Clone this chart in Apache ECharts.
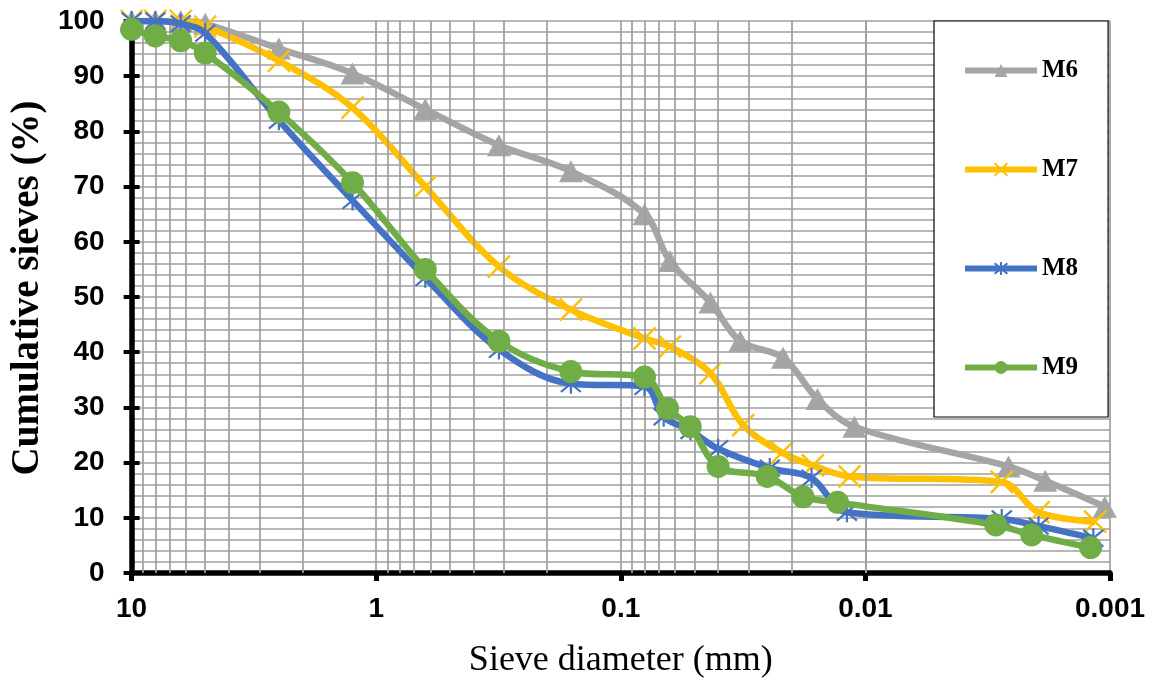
<!DOCTYPE html>
<html>
<head>
<meta charset="utf-8">
<script src="https://cdn.jsdelivr.net/npm/echarts@6/dist/echarts.min.js"></script>
<style>html,body{margin:0;padding:0;background:#fff}#c{width:1155px;height:686px}</style>
</head>
<body>
<div id="c"></div>
<script>
// ---- data (sieve diameter in mm, cumulative passing in %) ----
const m6X = [10, 8, 6.3, 5, 2.5, 1.25, 0.63, 0.315, 0.16, 0.08, 0.063, 0.043, 0.0325, 0.0217, 0.0157, 0.0111, 0.0026, 0.00184, 0.00105];
const m6Y = [100, 100, 100, 99.5, 95, 90.5, 84, 77.5, 72.8, 65, 56.5, 49, 42, 39, 31.5, 26.5, 19.3, 16.7, 12];
const m7X = [10, 8, 6.3, 5, 2.5, 1.25, 0.63, 0.315, 0.16, 0.08, 0.063, 0.043, 0.0316, 0.0219, 0.0164, 0.0116, 0.00277, 0.00196, 0.00115];
const m7Y = [100, 100, 100, 99, 92.8, 84.3, 70, 55.5, 47.7, 42.5, 41, 36.2, 26.8, 21.8, 19.5, 17.5, 16.5, 11, 9.3];
const m8X = [10, 8, 6.3, 5, 2.5, 1.25, 0.63, 0.315, 0.16, 0.08, 0.0668, 0.0519, 0.040, 0.0246, 0.0166, 0.0119, 0.00277, 0.00196, 0.00117];
const m8Y = [100, 100, 99.5, 97.8, 82, 67.5, 53.5, 40.5, 34.3, 33.8, 28.3, 25.8, 22.5, 19, 17.2, 11, 9.8, 8.5, 6.3];
const m9X = [10, 8, 6.3, 5, 2.5, 1.25, 0.63, 0.315, 0.16, 0.08, 0.0644, 0.052, 0.040, 0.0252, 0.018, 0.013, 0.00293, 0.00209, 0.0012];
const m9Y = [98.5, 97.3, 96.4, 94.2, 83.5, 70.7, 55, 42, 36.5, 35.5, 29.8, 26.5, 19.3, 17.5, 13.8, 12.8, 8.7, 6.9, 4.6];
const seriesNames = ['M6', 'M7', 'M8', 'M9'];
const xTickValues = [10, 1, 0.1, 0.01, 0.001];
const xTickLabels = ['10', '1', '0.1', '0.01', '0.001'];
const yTickLabels = ['0','10','20','30','40','50','60','70','80','90','100'];

const pairs = (xs, ys) => xs.map((x, i) => [x, ys[i]]);

// log-grid minor vertical lines (2..9 in each decade)
const vLines = [];
[1, 0.1, 0.01, 0.001].forEach(b => { for (let m = 2; m <= 9; m++) vLines.push({ xAxis: +(m * b).toPrecision(3) }); });

const crossPath = 'path://M0 0L10 10M10 0L0 10';
const starPath = 'path://M0 0L10 10M10 0L0 10M5 -1L5 11';
const gridGray = '#9f9f9f';
const gridW = 1.7;

const chart = echarts.init(document.getElementById('c'), null, { renderer: 'canvas' });
const lineW = 6.5;
chart.setOption({
  animation: false,
  backgroundColor: '#fff',
  grid: { left: 128, right: 45, top: 21, bottom: 113, containLabel: false },
  legend: {
    orient: 'vertical',
    left: 934, top: 21,
    data: seriesNames,
    itemWidth: 72, itemHeight: 16,
    itemGap: 74,
    padding: [37, 30, 37, 28],
    backgroundColor: '#fff',
    borderColor: '#000', borderWidth: 1.2,
    lineStyle: { width: 6 },
    textStyle: { fontFamily: 'Liberation Serif', fontWeight: 'bold', fontSize: 25, color: '#000' },
    z: 10
  },
  xAxis: {
    type: 'log', logBase: 10, min: 0.001, max: 10, inverse: true,
    name: 'Sieve diameter (mm)', nameLocation: 'middle', nameGap: 70,
    nameTextStyle: { fontFamily: 'Liberation Serif', fontSize: 36, color: '#000' },
    axisLine: { show: true, lineStyle: { color: '#000', width: 5.5 } },
    axisTick: { show: true, inside: false, length: 8, lineStyle: { color: '#000', width: 5 } },
    axisLabel: {
      margin: 22, fontFamily: 'Liberation Sans', fontWeight: 'bold', fontSize: 28, color: '#000',
      formatter: v => { const i = xTickValues.findIndex(t => Math.abs(Math.log10(t) - Math.log10(v)) < 1e-6); return i >= 0 ? xTickLabels[i] : ''; }
    },
    splitLine: { show: true, lineStyle: { color: gridGray, width: gridW } }
  },
  yAxis: [{
    type: 'value', min: 0, max: 100, interval: 10, position: 'left',
    name: 'Cumulative sieves (%)', nameLocation: 'middle', nameGap: 80, nameRotate: 90,
    nameTextStyle: { fontFamily: 'Liberation Serif', fontWeight: 'bold', fontSize: 39, color: '#000', padding: [0, 0, 0, 18] },
    axisLine: { show: true, lineStyle: { color: '#000', width: 5.5 } },
    axisTick: { show: true, inside: false, length: 8, lineStyle: { color: '#000', width: 4 } },
    axisLabel: { margin: 27, fontFamily: 'Liberation Sans', fontWeight: 'bold', fontSize: 28, color: '#000',
      formatter: v => yTickLabels[Math.round(v / 10)] },
    splitLine: { show: true, lineStyle: { color: gridGray, width: gridW } },
    minorTick: { show: false, splitNumber: 5 },
    minorSplitLine: { show: true, lineStyle: { color: gridGray, width: gridW } }
  }, {
    type: 'value', min: 0, max: 100, interval: 10, position: 'left', offset: 0,
    axisLine: { show: false },
    axisTick: { show: true, inside: true, length: 8, lineStyle: { color: '#000', width: 4 } },
    axisLabel: { show: false },
    splitLine: { show: false }
  }],
  series: [
    {
      name: '__grid', type: 'line', data: [], z: 1, silent: true,
      markLine: { silent: true, symbol: 'none', label: { show: false }, animation: false,
        emphasis: { disabled: true },
        lineStyle: { color: gridGray, width: gridW, type: 'solid', opacity: 1 }, data: vLines }
    },
    {
      name: 'M6', type: 'line', data: pairs(m6X, m6Y), smooth: 0.35,
      symbol: 'triangle', symbolSize: [24, 22],
      lineStyle: { color: '#a5a5a5', width: lineW },
      itemStyle: { color: '#a5a5a5' }, z: 3
    },
    {
      name: 'M7', type: 'line', data: pairs(m7X, m7Y), smooth: 0.35,
      symbol: crossPath, symbolSize: 22,
      lineStyle: { color: '#ffc000', width: lineW },
      itemStyle: { color: '#ffc000', borderColor: '#ffc000', borderWidth: 2.4 }, z: 4
    },
    {
      name: 'M8', type: 'line', data: pairs(m8X, m8Y), smooth: 0.35,
      symbol: starPath, symbolSize: 20,
      lineStyle: { color: '#4472c4', width: lineW },
      itemStyle: { color: '#4472c4', borderColor: '#4472c4', borderWidth: 2.2 }, z: 5
    },
    {
      name: 'M9', type: 'line', data: pairs(m9X, m9Y), smooth: 0.35,
      symbol: 'circle', symbolSize: 23,
      lineStyle: { color: '#70ad47', width: lineW },
      itemStyle: { color: '#70ad47' }, z: 6
    }
  ]
});
</script>
</body>
</html>
